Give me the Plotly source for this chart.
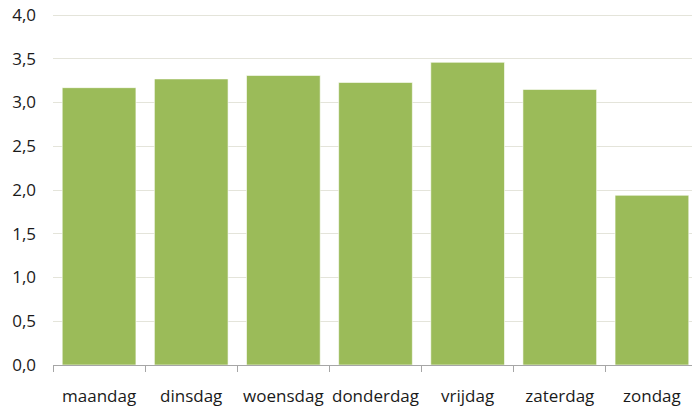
import plotly.graph_objects as go

days = ["maandag", "dinsdag", "woensdag", "donderdag", "vrijdag", "zaterdag", "zondag"]
values = [3.17, 3.27, 3.31, 3.23, 3.46, 3.15, 1.94]
y_ticks = [0, 0.5, 1.0, 1.5, 2.0, 2.5, 3.0, 3.5, 4.0]

fig = go.Figure(go.Bar(
    x=days, y=values,
    marker=dict(color="#9BBB59", line=dict(color="rgba(255,255,255,0.6)", width=1)),
))

font = dict(family="Open Sans, Noto Sans, sans-serif", size=17, color="#1a1a1a")
fig.update_layout(
    width=692, height=412,
    margin=dict(l=53, r=0, t=14, b=47),
    paper_bgcolor="white", plot_bgcolor="white",
    separators=",.",
    bargap=0.2,
    showlegend=False,
    font=font,
)
fig.update_xaxes(
    type="category",
    range=[-0.5, 6.435],
    automargin=False,
    showline=True, linecolor="#A6A6A6", linewidth=1,
    ticks="outside", tickson="boundaries", ticklen=6, tickcolor="#A6A6A6",
    tickangle=0,
    ticklabelstandoff=16,
    showgrid=False,
    tickfont=font,
)
fig.update_yaxes(
    range=[0, 4.012],
    automargin=False,
    tickvals=y_ticks, tickformat=".1f",
    showgrid=True, gridcolor="#E4E4DA", gridwidth=1,
    zeroline=False, showline=False,
    ticks="", ticklabelstandoff=16,
    tickfont=font,
)
fig.write_html(
    "out.html",
    config={"displayModeBar": False},
    post_script="document.body.style.margin='0';document.body.style.overflow='hidden';",
)
